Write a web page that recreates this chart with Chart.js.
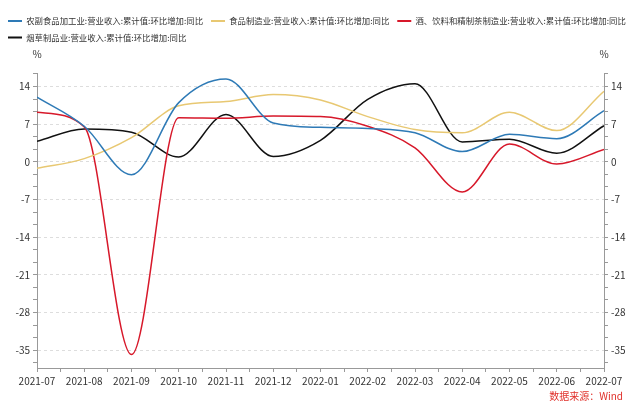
<!DOCTYPE html>
<html>
<head>
<meta charset="utf-8">
<script src="https://cdn.jsdelivr.net/npm/chart.js@4/dist/chart.umd.min.js"></script>
<style>
  html, body { margin: 0; padding: 0; background: #fff; }
  #wrap { width: 641px; height: 408px; }
</style>
</head>
<body>
<div id="wrap"><canvas id="chart" width="641" height="408"></canvas></div>
<script>
// months on the x axis
const months = ["2021-07", "2021-08", "2021-09", "2021-10", "2021-11", "2021-12",
  "2022-01", "2022-02", "2022-03", "2022-04", "2022-05", "2022-06", "2022-07"];

// series, %
const farmFood = [12.0, 6.6, -2.4, 11.0, 15.4, 7.2, 6.4, 6.2, 5.4, 1.9, 5.1, 4.3, 9.5];
const foodMaking = [-1.2, 0.6, 4.5, 10.4, 11.2, 12.5, 11.5, 8.4, 6.0, 5.4, 9.2, 5.8, 13.1];
const drinks = [9.2, 6.5, -35.8, 8.2, 8.1, 8.5, 8.4, 6.6, 2.6, -5.6, 3.3, -0.4, 2.3];
const tobacco = [3.8, 6.1, 5.5, 0.9, 8.8, 1.0, 4.0, 11.6, 14.5, 3.7, 4.2, 1.6, 6.7];

const seriesNames = [
  "农副食品加工业:营业收入:累计值:环比增加:同比",
  "食品制造业:营业收入:累计值:环比增加:同比",
  "酒、饮料和精制茶制造业:营业收入:累计值:环比增加:同比",
  "烟草制品业:营业收入:累计值:环比增加:同比"
];
const seriesColors = ["#2e7ab6", "#e8c872", "#d7182a", "#111111"];

// y axis labels, with two small ticks between each pair
const yMajorTicks = [-35, -28, -21, -14, -7, 0, 7, 14];
const yMin = -38.3, yMax = 16.5;

const FONT = "'Noto Sans CJK SC', 'Noto Sans', sans-serif";

function yTickList() {
  const out = [];
  for (let m = -42; m <= 21; m += 7) {
    for (let k = 0; k < 3; k++) {
      const v = m + k * 7 / 3;
      if (v >= yMin && v <= yMax) out.push({ value: v });
    }
  }
  return out;
}
function isMajor(v) {
  return yMajorTicks.some(t => Math.abs(t - v) < 1e-6);
}

const toPoints = arr => arr.map((v, i) => ({ x: i, y: v }));
const allSeries = [farmFood, foodMaking, drinks, tobacco];

const datasets = allSeries.map((arr, i) => ({
  label: seriesNames[i],
  data: toPoints(arr),
  borderColor: seriesColors[i],
  backgroundColor: seriesColors[i],
  borderWidth: 1.5,
  pointRadius: 0,
  fill: false,
  cubicInterpolationMode: "monotone",
  yAxisID: "y"
}));

function yAxis(position, withGrid) {
  return {
    type: "linear",
    display: true,
    position: position,
    min: yMin,
    max: yMax,
    afterBuildTicks: s => { s.ticks = yTickList(); },
    afterFit: s => { s.width = 37; },
    ticks: {
      autoSkip: false,
      padding: 3,
      color: "#333",
      font: { family: FONT, size: 10 },
      callback: v => isMajor(v) ? String(Math.round(v)) : ""
    },
    grid: {
      drawOnChartArea: withGrid,
      color: c => (c.tick && isMajor(c.tick.value)) ? "#dddddd" : "rgba(0,0,0,0)",
      tickColor: "#999",
      tickLength: 4,
      lineWidth: 1
    },
    border: { display: true, color: "#999", dash: [3, 3] }
  };
}

// puts "%" over both axes and the source note in the corner
const extras = {
  id: "extras",
  beforeInit(chart) {
    const fit = chart.legend.fit;
    chart.legend.fit = function () {
      fit.bind(chart.legend)();
      this.height = 64.2;
    };
  },
  afterDraw(chart) {
    const ctx = chart.ctx;
    const a = chart.chartArea;
    ctx.save();
    ctx.font = "10px " + FONT;
    ctx.fillStyle = "#333";
    ctx.textAlign = "center";
    ctx.textBaseline = "middle";
    ctx.fillText("%", a.left, 54);
    ctx.fillText("%", a.right, 54);
    ctx.fillStyle = "#e0302a";
    ctx.textAlign = "right";
    ctx.fillText("数据来源：Wind", 623, 396);
    ctx.restore();
  }
};

new Chart(document.getElementById("chart"), {
  type: "line",
  data: { datasets: datasets },
  options: {
    responsive: false,
    animation: false,
    layout: { padding: { top: 8.8, left: 0, right: 0, bottom: 0 } },
    scales: {
      x: {
        type: "linear",
        min: 0,
        max: months.length - 1,
        afterBuildTicks: s => {
          const t = [];
          for (let i = 0; i <= (months.length - 1) * 2; i++) t.push({ value: i / 2 });
          s.ticks = t;
        },
        afterFit: s => { s.height = 40; },
        ticks: {
          autoSkip: false,
          maxRotation: 0,
          padding: 3,
          color: "#333",
          font: { family: FONT, size: 10 },
          callback: v => Number.isInteger(v) ? months[v] : ""
        },
        grid: { drawOnChartArea: false, tickColor: "#999", tickLength: 4 },
        border: { color: "#999" }
      },
      y: yAxis("left", true),
      y2: yAxis("right", false)
    },
    plugins: {
      legend: {
        position: "top",
        align: "start",
        labels: {
          boxWidth: 14,
          boxHeight: 2,
          padding: 8,
          color: "#333",
          font: { family: FONT, size: 8.4 },
          generateLabels: chart =>
            Chart.defaults.plugins.legend.labels.generateLabels(chart)
              .map(l => Object.assign(l, { lineWidth: 0 }))
        }
      },
      tooltip: { enabled: false }
    }
  },
  plugins: [extras]
});
</script>
</body>
</html>
